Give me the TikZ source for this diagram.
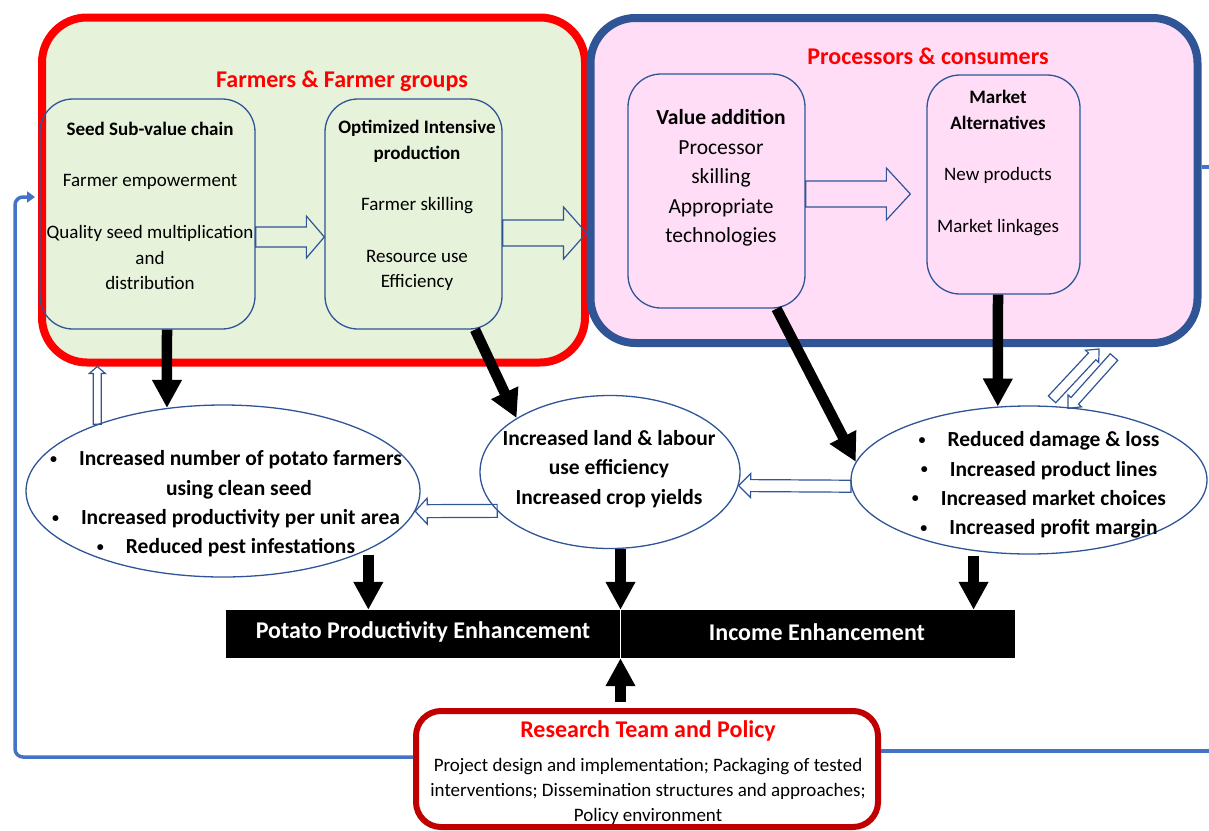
\documentclass[tikz,border=0pt]{standalone}
\usepackage{fontspec}
\setmainfont{Carlito}
\usetikzlibrary{arrows.meta,calc,shapes.geometric}
\definecolor{farmgreen}{RGB}{230,242,218}
\definecolor{procpink}{RGB}{255,221,246}
\definecolor{procblue}{RGB}{47,85,151}
\definecolor{linkblue}{RGB}{68,114,196}
\definecolor{resred}{RGB}{192,0,0}
% hollow block arrow: from, to, half shaft, half head, head length
\newcommand{\blockarrow}[5]{%
  \draw[hollow] let \p1=(#1), \p2=(#2), \n1={atan2(\y2-\y1,\x2-\x1)}, \n2={veclen(\x2-\x1,\y2-\y1)} in
    (\p1) -- ++(\n1+90:#3pt) -- ++(\n1:{\n2*1pt-#5pt}) -- ++(\n1+90:{#4pt-#3pt}) -- (\p2)
    -- ++({\n1+180+atan2(#4,#5)}:{veclen(#4,#5)*1pt}) -- ++(\n1+90:{#4pt-#3pt})
    -- ++(\n1+180:{\n2*1pt-#5pt}) -- cycle;}
\newcommand{\bul}{\raisebox{2.5pt}{\fontsize{14}{14}\selectfont\textbullet}\hspace{22pt}}

\begin{document}
\begin{tikzpicture}[x=1pt,y=-1pt,
  group/.style={draw,rounded corners=45pt,line width=8pt,inner sep=0pt},
  stage/.style={draw=procblue,rounded corners=33pt,line width=1.3pt,inner sep=0pt},
  outcome/.style={ellipse,draw=procblue,line width=1.3pt,inner sep=0pt},
  grouptitle/.style={text=red,font=\fontsize{24}{29}\selectfont\bfseries},
  stagetext/.style={align=center,font=\fontsize{19}{25.7}\selectfont},
  outcometext/.style={align=center,font=\fontsize{21.5}{29.3}\selectfont\bfseries},
  bartext/.style={text=white,font=\fontsize{24}{29}\selectfont\bfseries},
  hollow/.style={draw=procblue,line width=1.2pt,line join=miter},
  fat/.style={line width=10.5pt,-{Triangle[length=28pt,width=28pt]}},
  feedback/.style={draw=linkblue,line width=3.5pt}]
\useasboundingbox (0,0) rectangle (1209,830);

% the two actor groups
\node[group,draw=red,fill=farmgreen,minimum width=543pt,minimum height=345pt] (farm) at (313.5,190) {};
\node[group,draw=procblue,fill=procpink,minimum width=607pt,minimum height=325pt] (proc) at (894,180.5) {};
\node[grouptitle] (farmtitle) at (342,81) {Farmers \& Farmer groups};
\node[grouptitle] (proctitle) at (928,56) {Processors \& consumers};

\node[stage,minimum width=215pt,minimum height=230pt] (seed) at (147.5,214) {};
\node[stage,minimum width=177pt,minimum height=230pt] (opt) at (413.5,214) {};
\node[stage,minimum width=177pt,minimum height=234pt] (value) at (716.5,191) {};
\node[stage,minimum width=153pt,minimum height=219pt] (market) at (1003.5,184.5) {};

\node[stagetext] (seedtext) at (150,206) {\textbf{Seed Sub-value chain}\\[25.7pt]Farmer empowerment\\[25.7pt]Quality seed multiplication\\and\\distribution};
\node[stagetext] (opttext) at (417,205.5) {\textbf{Optimized Intensive}\\\textbf{production}\\[25.7pt]Farmer skilling\\[25.7pt]Resource use\\Efficiency};
\node[stagetext,font=\fontsize{21.5}{29.5}\selectfont] (valuetext) at (721,178) {\textbf{Value addition}\\Processor\\skilling\\Appropriate\\technologies};
\node[stagetext] (markettext) at (998,163) {\textbf{Market}\\\textbf{Alternatives}\\[25.7pt]New products\\[25.7pt]Market linkages};

% outcomes
\node[outcome,minimum width=394pt,minimum height=172pt] (e1) at (223,491) {};
\node[outcome,minimum width=260pt,minimum height=153pt] (e2) at (610,472) {};
\node[outcome,minimum width=356pt,minimum height=148pt] (e3) at (1029,480) {};
\node[outcometext] (e1text) at (226,504) {\bul Increased number of potato farmers\\\hspace*{26pt}using clean seed\\\bul Increased productivity per unit area\\\bul Reduced pest infestations};
\node[outcometext] (e2text) at (609,469) {Increased land \& labour\\use efficiency\\Increased crop yields};
\node[outcometext] (e3text) at (1039,485) {\bul Reduced damage \& loss\\\bul Increased product lines\\\bul Increased market choices\\\bul Increased profit margin};

% goals bar
\node[fill=black,minimum width=789pt,minimum height=48pt,inner sep=0pt] (bar) at (620.5,634) {};
\draw[white,line width=0.8pt] (bar.north) -- (bar.south);
\node[bartext] (barleft) at (423,632) {Potato Productivity Enhancement};
\node[bartext] (barright) at (817,632) {Income Enhancement};

% research
\node[draw=resred,fill=white,rounded corners=25pt,line width=6pt,minimum width=462pt,minimum height=116pt,inner sep=0pt] (research) at (647,769) {};
\node[grouptitle] (restitle) at (648,731) {Research Team and Policy};
\node[align=center,font=\fontsize{19}{25}\selectfont] (resbody) at (648,791) {Project design and implementation; Packaging of tested\\interventions; Dissemination structures and approaches;\\Policy environment};

% hollow arrows
\blockarrow{[yshift=-23pt]seed.east}{[yshift=-23pt]opt.west}{10}{21}{18}
\coordinate (h2s) at ([yshift=-19pt]opt.east);
\blockarrow{h2s}{proc.west |- h2s}{13}{26}{23}
\coordinate (h3s) at ([yshift=-3pt]value.east);
\coordinate (h3e) at ([xshift=-16pt]market.west |- h3s);
\blockarrow{h3s}{h3e}{13}{26}{24}
\blockarrow{e3.182}{e2.-6}{6}{12}{12}
\blockarrow{e2.199}{e1.-6}{6.5}{13}{12}
\blockarrow{e1.152}{farm.south -| e1.152}{4}{8}{7}
\blockarrow{[xshift=23pt,yshift=6pt]e3.north}{[xshift=205pt,yshift=-2pt]proc.south}{5}{9}{10}
\blockarrow{[xshift=220pt,yshift=-10pt]proc.south}{[xshift=39pt,yshift=-3pt]e3.north}{5}{9}{10}

% black arrows
\draw[fat] ([xshift=19.5pt]seed.south) -- (e1.124);
\draw[fat] ([xshift=61.5pt]opt.south) -- (e2.150);
\draw[fat] ([xshift=60pt]value.south) -- (e3.174);
\draw[fat] ([xshift=-5.5pt]market.south) -- (e3.113);
\draw[fat] ([yshift=-5pt]e1.338) -- (bar.north -| e1.338);
\draw[fat] (e2.south -| bar.north) -- (bar.north);
\draw[fat] ([yshift=-5pt]e3.232) -- (bar.north -| e3.232);
\draw[fat] ($(research.north -| bar.south)+(0,-6)$) -- (bar.south);

% feedback lines
\coordinate (fbcorner) at (15,197);
\draw[feedback,rounded corners=8pt,-{Triangle[length=8pt,width=11pt]}] ([yshift=12pt]research.west) -| (fbcorner) -- ([xshift=-3pt,yshift=-7pt]farm.west);
\coordinate (outtop) at (1212,167);
\draw[feedback] ([yshift=13.5pt]proc.east) -- (outtop);
\coordinate (outbot) at (1212,751);
\draw[feedback] ([yshift=18pt]research.east) -- (outbot);
\end{tikzpicture}
\end{document}
